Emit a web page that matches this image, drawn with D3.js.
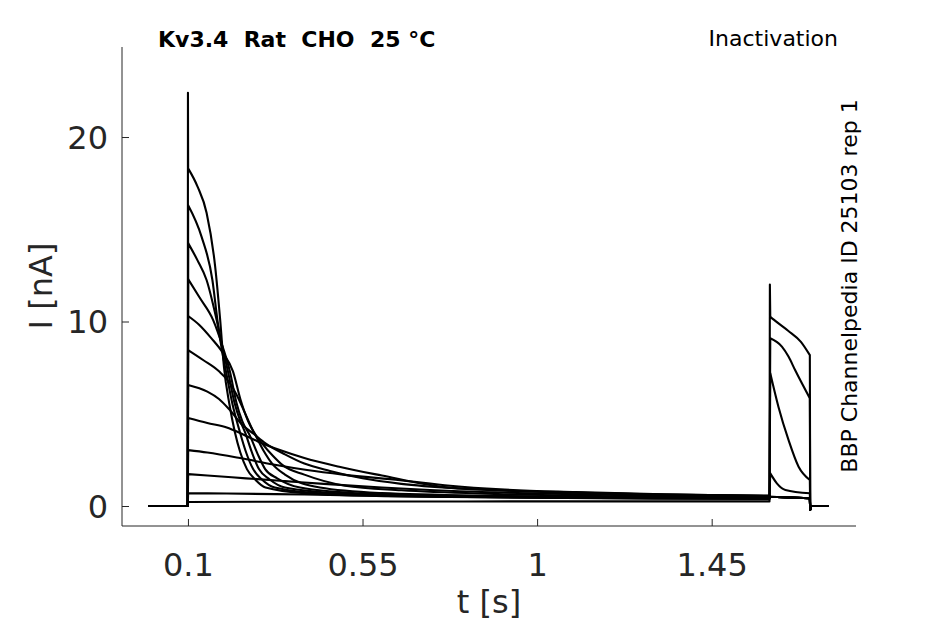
<!DOCTYPE html>
<html>
<head>
<meta charset="utf-8">
<script src="https://cdn.jsdelivr.net/npm/d3@7"></script>
<style>
  body { margin: 0; background: #fff; }
  text { font-family: "DejaVu Sans", sans-serif; }
</style>
</head>
<body>
<div class="trace-chart"></div>
<script>
// --- DATA --- //
// t in s, I in nA; each prepulse trace listed from the 0.1 s step to 1.6 s
const xTicks = [0.1, 0.55, 1, 1.45];
const yTicks = [0, 10, 20];

const prepulse1 = [[0.1005,18.3],[0.125,17.3],[0.148,15.9],[0.17,13.0],[0.183,10.1],[0.193,7.5],[0.207,5.5],[0.221,4.0],[0.235,2.9],[0.252,2.0],[0.275,1.4],[0.3,1.0],[0.4,0.7],[0.7,0.5],[1.0,0.45],[1.3,0.42],[1.599,0.4]];
const prepulse2 = [[0.1005,16.3],[0.135,14.6],[0.163,12.25],[0.176,10.08],[0.188,8.4],[0.198,7.3],[0.215,5.5],[0.234,4.0],[0.25,2.9],[0.268,2.0],[0.29,1.45],[0.324,1.0],[0.45,0.68],[0.8,0.5],[1.2,0.44],[1.599,0.42]];
const prepulse3 = [[0.1005,14.25],[0.125,13.3],[0.148,12.25],[0.174,10.08],[0.19,8.5],[0.203,7.3],[0.22,5.6],[0.235,4.6],[0.247,4.0],[0.265,2.9],[0.283,2.0],[0.31,1.45],[0.35,1.0],[0.5,0.68],[0.9,0.5],[1.2,0.45],[1.599,0.42]];
const prepulse4 = [[0.1005,12.3],[0.13,11.3],[0.165,10.08],[0.19,8.6],[0.208,7.3],[0.225,5.6],[0.24,4.6],[0.26,3.8],[0.28,2.8],[0.299,2.0],[0.33,1.5],[0.389,1.0],[0.55,0.68],[0.9,0.52],[1.2,0.46],[1.599,0.42]];
const prepulse5 = [[0.1005,10.3],[0.13,9.8],[0.16,9.1],[0.19,8.3],[0.216,7.3],[0.235,5.8],[0.255,4.6],[0.275,3.8],[0.295,3.0],[0.317,2.3],[0.35,1.7],[0.44,1.0],[0.6,0.7],[0.9,0.55],[1.2,0.48],[1.599,0.43]];
const prepulse6 = [[0.1005,8.45],[0.14,7.9],[0.18,7.3],[0.21,6.6],[0.226,6.0],[0.25,4.9],[0.27,4.0],[0.291,3.4],[0.32,2.7],[0.345,2.2],[0.4,1.7],[0.505,1.1],[0.65,0.85],[0.9,0.65],[1.2,0.52],[1.599,0.45]];
const prepulse7 = [[0.1005,6.56],[0.15,6.2],[0.18,5.8],[0.208,5.2],[0.24,4.4],[0.27,3.9],[0.3,3.4],[0.35,2.8],[0.4,2.3],[0.466,1.9],[0.55,1.5],[0.65,1.2],[0.8,0.95],[1.0,0.78],[1.3,0.62],[1.599,0.55]];
const prepulse8 = [[0.1005,4.77],[0.15,4.5],[0.2,4.25],[0.234,3.96],[0.28,3.5],[0.337,3.03],[0.4,2.6],[0.49,2.13],[0.6,1.65],[0.75,1.05],[0.9,0.85],[1.1,0.72],[1.35,0.62],[1.599,0.55]];
const prepulse9 = [[0.1005,3.03],[0.15,2.9],[0.234,2.6],[0.32,2.25],[0.407,1.95],[0.5,1.7],[0.647,1.4],[0.776,1.1],[0.905,0.9],[1.1,0.75],[1.35,0.62],[1.599,0.55]];
const prepulse10 = [[0.1005,1.73],[0.15,1.65],[0.25,1.5],[0.35,1.35],[0.45,1.2],[0.6,1.0],[0.8,0.8],[1.0,0.68],[1.3,0.56],[1.599,0.5]];
const prepulse11 = [[0.1005,0.7],[0.2,0.68],[0.4,0.62],[0.7,0.52],[1.0,0.45],[1.3,0.4],[1.599,0.38]];
const prepulse12 = [[0.1005,0.22],[0.3,0.23],[0.6,0.24],[1.0,0.25],[1.3,0.25],[1.599,0.25]];

// test pulse responses, 1.6 s to 1.704 s
const testA = [[1.601,10.26],[1.61,10.1],[1.647,9.5],[1.68,8.9],[1.703,8.18]];
const testB = [[1.601,9.09],[1.631,8.64],[1.648,8.1],[1.665,7.37],[1.703,5.84]];
const testC = [[1.601,7.19],[1.622,5.38],[1.648,3.58],[1.674,2.13],[1.703,1.41]];
const testD = [[1.601,1.77],[1.618,1.23],[1.64,0.87],[1.703,0.69]];
const testInactive = [[1.601,0.5],[1.703,0.42]];

// capacitive spikes at the two voltage steps
const onsetSpike = [[0.1,22.4]];
const testSpike = [[1.6,12.0]];

// holding segments before and after
const holdBefore = [[0,0],[0.0995,0]];
const holdAfter = [[1.704,-0.2],[1.706,0],[1.75,0]];

const prepulses = [prepulse1, prepulse2, prepulse3, prepulse4, prepulse5, prepulse6,
                   prepulse7, prepulse8, prepulse9, prepulse10, prepulse11, prepulse12];
const tests = [testInactive, testInactive, testInactive, testInactive, testInactive, testInactive,
               testInactive, testInactive, testD, testC, testB, testA];

// --- SVG --- //
const width = 945;
const height = 624;

const svg = d3.select('.trace-chart').append('svg')
    .attr('width', width)
    .attr('height', height)
    .attr('viewBox', [0, 0, width, height]);

// scales
const x = d3.scaleLinear()
    .domain([-0.07, 1.822])
    .range([122, 856]);

const y = d3.scaleLinear()
    .domain([-1.084, 24.88])
    .range([526, 47]);

// straight pieces for the steps, monotone curves for the decays
const stepLine = d3.line()
    .x(d => x(d[0]))
    .y(d => y(d[1]));

const decayLine = d3.line()
    .curve(d3.curveMonotoneX)
    .x(d => x(d[0]))
    .y(d => y(d[1]));

function sweepPath(p, i) {
    const t = tests[i];
    const on = i === 0 ? onsetSpike : [];
    const tp = i === prepulses.length - 1 ? testSpike : [];
    return stepLine(holdBefore.concat(on, [p[0]]))
        + decayLine(p)
        + stepLine([p[p.length - 1]].concat(tp, [t[0]]))
        + decayLine(t)
        + stepLine([t[t.length - 1]].concat(holdAfter));
}

svg.append('g')
    .selectAll('path')
    .data(prepulses)
    .join('path')
    .attr('d', sweepPath)
    .attr('fill', 'none')
    .attr('stroke', '#000')
    .attr('stroke-width', 2.1)
    .attr('stroke-linejoin', 'round')
    .attr('stroke-linecap', 'round');

// --- AXES --- //
const axisColor = '#262626';

const xAxis = svg.append('g')
    .attr('transform', `translate(0,526)`)
    .call(d3.axisTop(x).tickValues(xTicks).tickSize(7).tickFormat(d3.format('')));
xAxis.select('.domain').attr('d', 'M122,0H856').attr('stroke', axisColor);
xAxis.selectAll('.tick line').attr('stroke', axisColor);
xAxis.selectAll('.tick text')
    .attr('y', 50)
    .attr('fill', axisColor)
    .style('font-size', '32px')
    .attr('dy', 0);

const yAxis = svg.append('g')
    .attr('transform', `translate(122,0)`)
    .call(d3.axisRight(y).tickValues(yTicks).tickSize(7));
yAxis.select('.domain').attr('d', 'M0,47V526').attr('stroke', axisColor);
yAxis.selectAll('.tick line').attr('stroke', axisColor);
yAxis.selectAll('.tick text')
    .attr('x', -14)
    .attr('text-anchor', 'end')
    .attr('fill', axisColor)
    .style('font-size', '32px')
    .attr('dy', '0.35em');

// axis titles
svg.append('text')
    .attr('x', 489)
    .attr('y', 613)
    .attr('text-anchor', 'middle')
    .attr('fill', axisColor)
    .style('font-size', '32px')
    .text('t [s]');

svg.append('text')
    .attr('transform', 'translate(52,286) rotate(-90)')
    .attr('text-anchor', 'middle')
    .attr('fill', axisColor)
    .style('font-size', '32px')
    .text('I [nA]');

// --- ANNOTATIONS --- //
svg.append('text')
    .attr('x', 158)
    .attr('y', 47)
    .style('font-size', '22px')
    .style('font-weight', 'bold')
    .style('white-space', 'pre')
    .text('Kv3.4  Rat  CHO  25 °C');

svg.append('text')
    .attr('x', 838)
    .attr('y', 46)
    .attr('text-anchor', 'end')
    .style('font-size', '22px')
    .text('Inactivation');

svg.append('text')
    .attr('transform', 'translate(857,286) rotate(-90)')
    .attr('text-anchor', 'middle')
    .style('font-size', '22px')
    .text('BBP Channelpedia ID 25103 rep 1');
</script>
</body>
</html>
